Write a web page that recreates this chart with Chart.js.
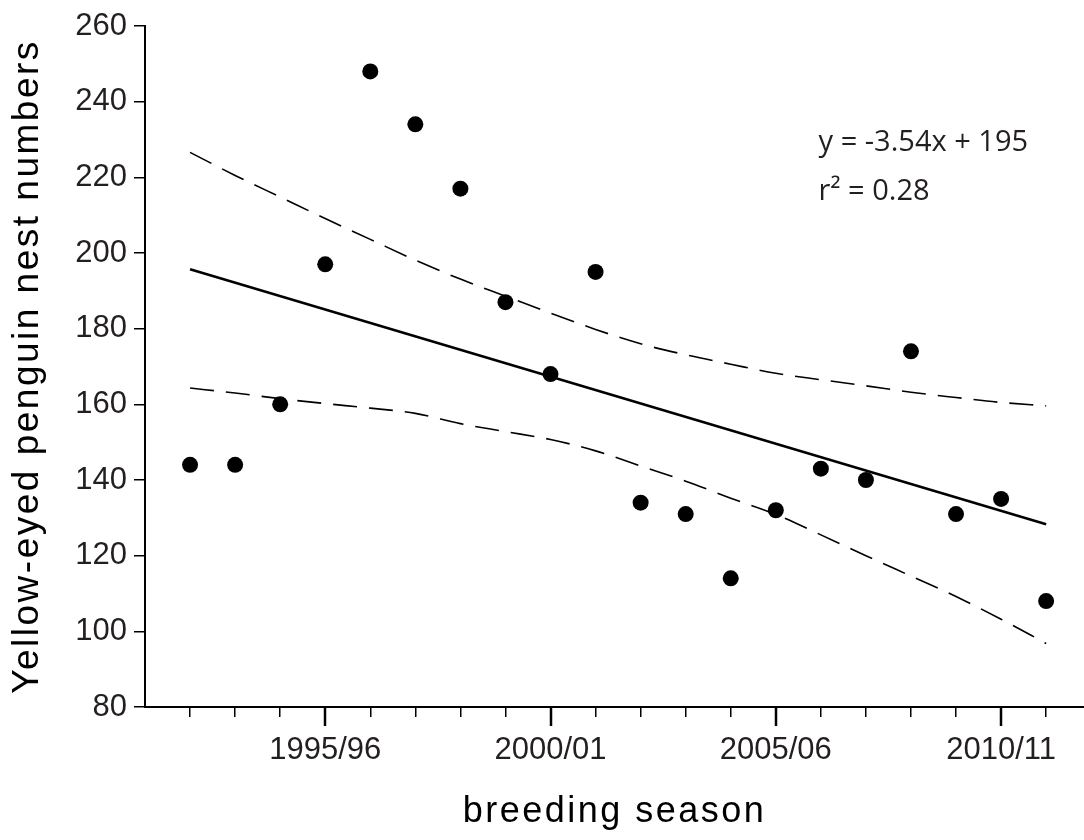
<!DOCTYPE html>
<html>
<head>
<meta charset="utf-8">
<script src="https://cdn.jsdelivr.net/npm/chart.js@4.4.1/dist/chart.umd.min.js"></script>
<style>
  body { margin: 0; background: #fff; }
  canvas { display: block; }
</style>
</head>
<body>
<canvas id="nestChart" width="1084" height="840"></canvas>
<script>
// seasons are keyed by their first year (1992 = 1992/93)
const seasons = [1992, 1993, 1994, 1995, 1996, 1997, 1998, 1999, 2000, 2001,
                 2002, 2003, 2004, 2005, 2006, 2007, 2008, 2009, 2010, 2011];
const nestCounts = [144, 144, 160, 197, 248, 234, 217, 187, 168, 195,
                    134, 131, 114, 132, 143, 140, 174, 131, 135, 108];

// fitted line and its confidence band
const fitSeasons = [1992, 2011];
const fitValues = [195.7, 128.3];
const upperBand = [226.6, 220.5, 214.8, 209.1, 203.6, 198.1, 193.1, 188.6, 184.1, 179.8,
                   176.0, 173.1, 170.6, 168.2, 166.5, 164.9, 163.2, 161.8, 160.5, 159.6];
const lowerBand = [164.3, 163.0, 161.5, 160.2, 159.0, 157.6, 154.9, 152.8, 150.7, 147.7,
                   143.7, 139.7, 135.2, 130.9, 125.5, 120.0, 114.6, 109.2, 103.2, 96.8];

const labelledSeasons = [1995, 2000, 2005, 2010];
const seasonLabels = ['1995/96', '2000/01', '2005/06', '2010/11'];
const yTicks = [80, 100, 120, 140, 160, 180, 200, 220, 240, 260];

const equationLines = ['y = -3.54x + 195', 'r\u00b2 = 0.28'];
const equationSeason = 2005.95;
const equationValues = [227, 214];

const sansFont = '"Liberation Sans", Arial, Helvetica, sans-serif';
const inkColor = '#231f20';

function toPoints(xs, ys) {
    return xs.map((x, i) => ({ x: x, y: ys[i] }));
}

// axis titles are letter-spaced in the original; tick labels are not
const titleSpacing = {
    id: 'titleSpacing',
    beforeDraw(chart) {
        chart.ctx.letterSpacing = '2.5px';
    },
    beforeDatasetsDraw(chart) {
        chart.ctx.letterSpacing = '0px';
    }
};

// longer major ticks on the season axis + regression text
const extras = {
    id: 'extras',
    afterDraw(chart) {
        const { ctx, scales: { x, y } } = chart;
        ctx.save();
        ctx.strokeStyle = '#000';
        ctx.lineWidth = 2.5;
        labelledSeasons.forEach(s => {
            const px = Math.round(x.getPixelForValue(s));
            ctx.beginPath();
            ctx.moveTo(px, y.bottom);
            ctx.lineTo(px, y.bottom + 19);
            ctx.stroke();
        });
        ctx.fillStyle = inkColor;
        ctx.font = '29px "Open Sans", sans-serif';
        ctx.textAlign = 'left';
        ctx.textBaseline = 'alphabetic';
        const ex = x.getPixelForValue(equationSeason);
        equationLines.forEach((line, i) => {
            ctx.fillText(line, ex, y.getPixelForValue(equationValues[i]));
        });
        ctx.restore();
    }
};

new Chart(document.getElementById('nestChart'), {
    type: 'scatter',
    data: {
        datasets: [{
            label: 'Nest numbers',
            data: toPoints(seasons, nestCounts),
            backgroundColor: '#000',
            borderWidth: 0,
            pointRadius: 8,
            pointHoverRadius: 8
        }, {
            label: 'Linear fit',
            data: toPoints(fitSeasons, fitValues),
            showLine: true,
            borderColor: '#000',
            borderWidth: 2.5,
            pointRadius: 0
        }, {
            label: 'Upper 95% CI',
            data: toPoints(seasons, upperBand),
            showLine: true,
            borderColor: '#000',
            borderWidth: 1.6,
            borderDash: [24, 12],
            cubicInterpolationMode: 'monotone',
            pointRadius: 0
        }, {
            label: 'Lower 95% CI',
            data: toPoints(seasons, lowerBand),
            showLine: true,
            borderColor: '#000',
            borderWidth: 1.6,
            borderDash: [24, 12],
            cubicInterpolationMode: 'monotone',
            pointRadius: 0
        }]
    },
    options: {
        responsive: false,
        animation: false,
        layout: { autoPadding: false, padding: { top: 26, left: 0, right: 0, bottom: 0 } },
        plugins: {
            legend: { display: false },
            tooltip: { enabled: false }
        },
        scales: {
            x: {
                type: 'linear',
                min: 1991,
                max: 2011.84,
                afterBuildTicks: scale => {
                    scale.ticks = scale.ticks.filter(t => t.value >= seasons[0]);
                },
                afterFit: scale => { scale.height = 133; },
                border: { color: '#000', width: 2 },
                grid: { drawOnChartArea: false, tickLength: 10, color: '#000', lineWidth: 1.5 },
                ticks: {
                    stepSize: 1,
                    autoSkip: false,
                    maxRotation: 0,
                    includeBounds: false,
                    padding: 15,
                    z: 1,
                    color: inkColor,
                    font: { family: sansFont, size: 31 },
                    callback: v => {
                        const i = labelledSeasons.indexOf(v);
                        return i >= 0 ? seasonLabels[i] : '';
                    }
                },
                title: {
                    display: true,
                    text: 'breeding season',
                    color: '#000',
                    font: { family: sansFont, size: 36 },
                    padding: { top: 0, bottom: 6 }
                }
            },
            y: {
                min: yTicks[0],
                max: yTicks[yTicks.length - 1],
                afterBuildTicks: scale => {
                    scale.ticks = yTicks.map(v => ({ value: v }));
                },
                afterFit: scale => { scale.width = 145; },
                border: { color: '#000', width: 2 },
                grid: { drawOnChartArea: false, tickLength: 11, color: '#000', lineWidth: 1.5 },
                ticks: {
                    padding: 7,
                    z: 1,
                    color: inkColor,
                    font: { family: sansFont, size: 31 }
                },
                title: {
                    display: true,
                    text: 'Yellow-eyed penguin nest numbers',
                    color: '#000',
                    font: { family: sansFont, size: 37 },
                    padding: { top: 6, bottom: 0 }
                }
            }
        }
    },
    plugins: [titleSpacing, extras]
});
</script>
</body>
</html>
